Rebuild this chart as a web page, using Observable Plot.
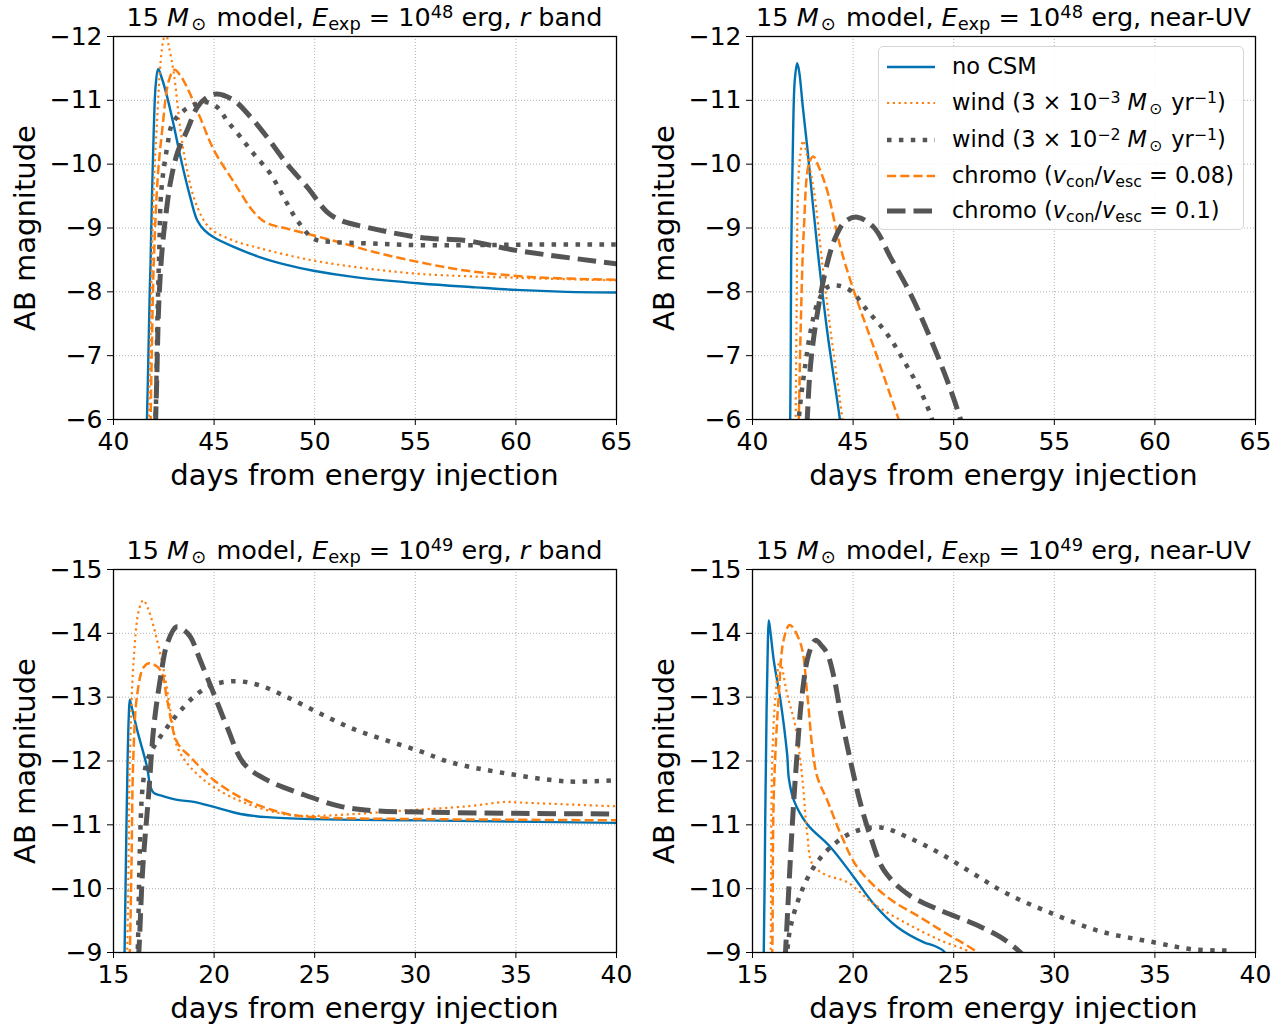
<!DOCTYPE html>
<html>
<head>
<meta charset="utf-8">
<script src="https://cdn.jsdelivr.net/npm/d3@7"></script>
<script src="https://cdn.jsdelivr.net/npm/@observablehq/plot@0.6"></script>
<style>
  html, body { margin: 0; padding: 0; background: #fff; overflow: hidden; }
  body { width: 1288px; height: 1029px; position: relative; font-family: "DejaVu Sans", sans-serif; color: #000; }
  .panel { position: absolute; width: 640px; height: 500px; }
  .txt { position: absolute; white-space: nowrap; font-family: "DejaVu Sans", sans-serif; line-height: 1; }
  .title { font-size: 25.5px; transform: translateX(-50%); }
  .xlab { font-size: 29px; transform: translateX(-50%); }
  .ylab { font-size: 29px; transform: translate(-50%, -50%) rotate(-90deg); }
  sub, sup { font-size: 70%; line-height: 0; }
  sub { vertical-align: -0.25em; }
  sup { vertical-align: 0.45em; }
  .sun { margin-left: 0.12em; margin-right: 0.12em; }
  .legend { position: absolute; left: 878px; top: 46px; width: 366px; height: 184px; box-sizing: border-box;
            border: 1px solid #d6d6d6; border-radius: 5px; background: rgba(255,255,255,0.85); }
  .lrow { position: absolute; left: 0; height: 30px; font-size: 22.5px; white-space: nowrap; }
  .lrow svg { position: absolute; left: 8px; top: 0; }
  .lrow span { position: absolute; left: 73px; top: 3px; line-height: 1; }
</style>
</head>
<body>
<script>
// ---------------- data (days, AB magnitude) ----------------
// Panel 1: E = 1e48 erg, r band
const r48_noCSM = [[41.62,-5.5],[41.7,-6.5],[41.8,-8],[41.84,-8.44],[41.92,-9.6],[42.0,-10.53],[42.1,-11.25],[42.22,-11.49],[42.4,-11.35],[42.67,-11.05],[43.0,-10.6],[43.33,-10.11],[43.8,-9.5],[44.16,-9.12],[44.5,-8.97],[45.0,-8.85],[46.0,-8.7],[47.3,-8.54],[48.5,-8.43],[49.94,-8.33],[52.0,-8.23],[55.26,-8.13],[58.0,-8.07],[60.0,-8.03],[62.5,-8.0],[65.0,-7.99]];
const r48_wind3 = [[41.72,-5.5],[41.82,-7],[41.9,-8.44],[42.02,-9.8],[42.14,-10.53],[42.34,-11.6],[42.48,-11.95],[42.6,-12.05],[42.75,-11.85],[43.0,-11.42],[43.33,-10.53],[43.66,-9.9],[44.16,-9.33],[44.82,-8.99],[46.0,-8.8],[47.3,-8.68],[49.94,-8.49],[52.5,-8.37],[55.26,-8.28],[60.0,-8.22],[65.0,-8.18]];
const r48_wind2 = [[42.0,-5.5],[42.09,-6],[42.18,-7.5],[42.27,-8.6],[42.38,-9.6],[42.67,-10.27],[42.92,-10.63],[43.5,-10.84],[44.16,-10.95],[44.66,-10.97],[45.2,-10.88],[45.65,-10.68],[46.3,-10.43],[46.97,-10.16],[47.8,-9.85],[48.46,-9.48],[49.13,-9.12],[49.96,-8.83],[50.94,-8.78],[52.6,-8.76],[55.26,-8.73],[60.9,-8.74],[65.0,-8.74]];
const r48_chromo08 = [[41.82,-5.5],[41.9,-7],[42.0,-8.44],[42.2,-9.8],[42.42,-10.53],[42.75,-11.31],[43.03,-11.48],[43.3,-11.4],[43.66,-11.2],[44.32,-10.72],[44.99,-10.22],[45.98,-9.72],[46.97,-9.25],[47.6,-9.08],[48.63,-8.99],[50.95,-8.8],[53.0,-8.62],[55.26,-8.46],[57.58,-8.33],[60.9,-8.23],[65.0,-8.19]];
const r48_chromo10 = [[42.05,-5.5],[42.14,-6.5],[42.25,-7.8],[42.4,-8.6],[42.6,-9.2],[42.85,-9.75],[43.2,-10.2],[43.66,-10.53],[44.16,-10.89],[44.66,-11.05],[45.15,-11.1],[45.98,-11.0],[46.81,-10.74],[47.64,-10.42],[48.63,-10.0],[49.63,-9.64],[50.62,-9.25],[51.28,-9.12],[52.6,-9.01],[55.26,-8.85],[57.58,-8.8],[60.0,-8.65],[65.0,-8.44]];

// Panel 2: E = 1e48 erg, near-UV
const uv48_noCSM = [[41.86,-5.5],[41.9,-7],[41.92,-8.44],[42.02,-10.53],[42.1,-11.31],[42.22,-11.58],[42.32,-11.45],[42.5,-10.9],[42.72,-10.27],[43.22,-8.7],[43.71,-7.39],[44.34,-6.01],[44.5,-5.6]];
const uv48_wind3 = [[42.1,-5.5],[42.14,-6],[42.2,-8],[42.25,-9.48],[42.33,-10.0],[42.45,-10.3],[42.52,-10.37],[42.7,-10.15],[43.05,-9.59],[43.47,-8.44],[43.88,-7.39],[44.47,-6.0],[44.6,-5.6]];
const uv48_wind2 = [[42.25,-5.5],[42.3,-6],[42.63,-6.87],[42.9,-7.4],[43.22,-7.81],[43.71,-8.07],[44.21,-8.1],[44.87,-8.02],[45.7,-7.71],[46.69,-7.34],[47.52,-6.92],[48.35,-6.45],[48.93,-6.0],[49.1,-5.8]];
const uv48_chromo08 = [[42.25,-5.5],[42.3,-6],[42.4,-7.5],[42.55,-8.96],[42.8,-10.0],[43.02,-10.12],[43.3,-9.95],[43.71,-9.59],[44.37,-8.7],[45.03,-8.02],[46.03,-7.13],[47.27,-6.0],[47.5,-5.8]];
const uv48_chromo10 = [[42.65,-5.5],[42.72,-6],[42.89,-6.87],[43.22,-7.66],[43.71,-8.44],[44.12,-8.85],[44.6,-9.1],[45.2,-9.17],[46.03,-9.01],[46.86,-8.54],[47.85,-7.97],[48.68,-7.39],[49.68,-6.61],[50.34,-6.0],[50.5,-5.8]];

// Panel 3: E = 1e49 erg, r band
const r49_noCSM = [[15.5,-8.5],[15.55,-9],[15.62,-10.5],[15.7,-12],[15.76,-12.7],[15.81,-12.96],[15.9,-12.85],[16.18,-12.48],[16.67,-11.9],[16.84,-11.59],[17.0,-11.5],[17.34,-11.46],[18.17,-11.39],[19.0,-11.36],[19.99,-11.28],[21.31,-11.17],[22.64,-11.12],[24.96,-11.09],[30.26,-11.07],[35.0,-11.05],[40.0,-11.03]];
const r49_wind3 = [[15.62,-8.5],[15.68,-9],[15.75,-10.5],[15.81,-12.0],[16.0,-13.57],[16.26,-14.36],[16.48,-14.52],[16.7,-14.4],[17.0,-14.1],[17.5,-13.42],[17.83,-12.79],[18.17,-12.22],[18.83,-11.9],[19.99,-11.59],[21.64,-11.33],[23.63,-11.16],[24.96,-11.14],[27.0,-11.17],[29.26,-11.22],[32.58,-11.29],[34.5,-11.36],[35.2,-11.35],[36.72,-11.33],[40.0,-11.29]];
const r49_wind2 = [[16.1,-8.5],[16.2,-9],[16.3,-10.5],[16.45,-11.6],[16.67,-12.0],[17.0,-12.22],[17.67,-12.53],[18.33,-12.79],[19.16,-13.05],[19.99,-13.2],[21.15,-13.25],[22.31,-13.18],[23.63,-13.0],[25.29,-12.74],[26.94,-12.5],[28.6,-12.32],[30.26,-12.15],[31.75,-11.98],[34.24,-11.82],[37.55,-11.68],[40.0,-11.7]];
const r49_chromo08 = [[15.75,-8.5],[15.81,-9],[15.9,-10.5],[15.98,-12.0],[16.18,-13.05],[16.5,-13.47],[16.8,-13.53],[17.34,-13.42],[17.67,-12.95],[18.17,-12.29],[18.83,-12.06],[19.99,-11.7],[21.64,-11.38],[23.63,-11.17],[24.96,-11.12],[30.26,-11.09],[35.0,-11.08],[40.0,-11.07]];
const r49_chromo10 = [[16.15,-8.5],[16.26,-9],[16.45,-10.3],[16.75,-11.49],[17.0,-12.53],[17.34,-13.31],[17.67,-13.84],[18.13,-14.1],[18.5,-14.05],[18.83,-13.94],[19.32,-13.57],[19.99,-13.05],[20.65,-12.53],[21.48,-11.96],[22.64,-11.7],[24.3,-11.49],[26.28,-11.29],[28.0,-11.22],[30.26,-11.2],[35.0,-11.18],[40.0,-11.17]];

// Panel 4: E = 1e49 erg, near-UV
const uv49_noCSM = [[15.5,-8.5],[15.56,-9],[15.63,-11],[15.7,-12.8],[15.76,-13.8],[15.81,-14.2],[15.9,-14.0],[16.06,-13.57],[16.39,-12.95],[16.72,-12.11],[16.81,-11.72],[17.06,-11.38],[17.72,-11.01],[18.88,-10.65],[20.04,-10.18],[21.03,-9.76],[22.19,-9.4],[23.52,-9.16],[24.0,-9.11],[24.51,-9.02],[24.7,-8.9]];
const uv49_wind3 = [[15.85,-8.5],[15.9,-9],[15.98,-12.0],[16.15,-13.05],[16.36,-13.57],[16.72,-13.05],[17.14,-12.53],[17.47,-11.75],[17.72,-10.86],[17.97,-10.39],[18.55,-10.23],[19.71,-10.1],[21.03,-9.76],[22.69,-9.45],[24.34,-9.19],[25.83,-9.0],[26.1,-8.9]];
const uv49_wind2 = [[16.6,-8.5],[16.72,-9],[16.89,-9.4],[17.39,-9.92],[18.05,-10.34],[18.88,-10.65],[20.04,-10.89],[21.36,-10.96],[22.69,-10.81],[24.34,-10.55],[26.0,-10.23],[27.66,-9.92],[29.98,-9.6],[32.3,-9.33],[34.95,-9.16],[36.86,-9.05],[38.77,-9.03]];
const uv49_chromo08 = [[15.92,-8.5],[15.98,-9],[16.06,-11.49],[16.31,-13.05],[16.55,-13.9],[16.85,-14.13],[17.39,-13.84],[17.72,-13.05],[17.97,-12.22],[18.22,-11.75],[18.72,-11.38],[19.38,-10.86],[20.2,-10.34],[21.69,-9.87],[23.34,-9.55],[24.67,-9.29],[26.16,-9.0],[26.5,-8.85]];
const uv49_chromo10 = [[16.55,-8.5],[16.64,-9],[16.97,-10.96],[17.19,-12.0],[17.47,-13.05],[17.8,-13.68],[18.13,-13.89],[18.45,-13.8],[18.72,-13.68],[19.05,-13.31],[19.38,-12.74],[19.87,-12.0],[20.37,-11.33],[20.87,-10.81],[21.53,-10.29],[22.69,-9.92],[24.34,-9.66],[26.0,-9.45],[27.33,-9.24],[28.32,-9.0],[28.6,-8.9]];

// axis ticks
const xTicks48 = [40, 45, 50, 55, 60, 65];
const yTicks48 = [-12, -11, -10, -9, -8, -7, -6];
const xTicks49 = [15, 20, 25, 30, 35, 40];
const yTicks49 = [-15, -14, -13, -12, -11, -10, -9];

// legend labels
const legendLabels = [
  "no CSM",
  "wind (3 × 10<sup>−3</sup> <i>M</i><sub class=\"sun\">⊙</sub> yr<sup>−1</sup>)",
  "wind (3 × 10<sup>−2</sup> <i>M</i><sub class=\"sun\">⊙</sub> yr<sup>−1</sup>)",
  "chromo (<i>v</i><sub>con</sub>/<i>v</i><sub>esc</sub> = 0.08)",
  "chromo (<i>v</i><sub>con</sub>/<i>v</i><sub>esc</sub> = 0.1)"
];

// ---------------- styles ----------------
const styles = [
  {stroke: "#0072b2", strokeWidth: 2.4, strokeDasharray: null},
  {stroke: "#ff7f0e", strokeWidth: 2.2, strokeDasharray: "2.2,3.6"},
  {stroke: "#555555", strokeWidth: 4.5, strokeDasharray: "4.5,7.4"},
  {stroke: "#ff7f0e", strokeWidth: 2.5, strokeDasharray: "9.2,4"},
  {stroke: "#555555", strokeWidth: 5, strokeDasharray: "18.5,8"}
];

const titleStart = "15 <i>M</i><sub class=\"sun\">⊙</sub> model, <i>E</i><sub>exp</sub> = 10";
const panels = [
  {left: 0, top: 0, mL: 113, mR: 24, xd: [40, 65], yd: [-6, -12], xt: xTicks48, yt: yTicks48,
   series: [r48_noCSM, r48_wind3, r48_wind2, r48_chromo08, r48_chromo10],
   title: titleStart + "<sup>48</sup> erg, <i>r</i> band"},
  {left: 640, top: 0, mL: 112, mR: 25, xd: [40, 65], yd: [-6, -12], xt: xTicks48, yt: yTicks48,
   series: [uv48_noCSM, uv48_wind3, uv48_wind2, uv48_chromo08, uv48_chromo10],
   title: titleStart + "<sup>48</sup> erg, near-UV"},
  {left: 0, top: 533, mL: 113, mR: 24, xd: [15, 40], yd: [-9, -15], xt: xTicks49, yt: yTicks49,
   series: [r49_noCSM, r49_wind3, r49_wind2, r49_chromo08, r49_chromo10],
   title: titleStart + "<sup>49</sup> erg, <i>r</i> band"},
  {left: 640, top: 533, mL: 112, mR: 25, xd: [15, 40], yd: [-9, -15], xt: xTicks49, yt: yTicks49,
   series: [uv49_noCSM, uv49_wind3, uv49_wind2, uv49_chromo08, uv49_chromo10],
   title: titleStart + "<sup>49</sup> erg, near-UV"}
];

const fmt = d3.format("d");
const W = 640, H = 500, mT = 36, mB = 81;

function addText(cls, html, x, y) {
  const d = document.createElement("div");
  d.className = "txt " + cls;
  d.innerHTML = html;
  d.style.left = x + "px";
  d.style.top = y + "px";
  document.body.appendChild(d);
  return d;
}

panels.forEach(p => {
  const marks = [
    Plot.gridX(p.xt, {stroke: "#b0b0b0", strokeOpacity: 1, strokeWidth: 1, strokeDasharray: "1,2"}),
    Plot.gridY(p.yt, {stroke: "#b0b0b0", strokeOpacity: 1, strokeWidth: 1, strokeDasharray: "1,2"})
  ];
  const order = [0, 1, 3, 2, 4];
  order.forEach(i => {
    const s = styles[i];
    const opts = {x: d => d[0], y: d => d[1], stroke: s.stroke, strokeWidth: s.strokeWidth,
                  curve: "catmull-rom", clip: true, strokeLinecap: "butt", strokeLinejoin: "round"};
    if (s.strokeDasharray) opts.strokeDasharray = s.strokeDasharray;
    marks.push(Plot.line(p.series[i], opts));
  });
  marks.push(
    Plot.frame({stroke: "#000", strokeWidth: 1.3}),
    Plot.axisX(p.xt, {tickSize: 6, tickPadding: 7, fontSize: 25, tickFormat: fmt, label: null, stroke: "#000"}),
    Plot.axisY(p.yt, {tickSize: 6, tickPadding: 5, fontSize: 25, tickFormat: fmt, label: null, stroke: "#000"})
  );
  const chart = Plot.plot({
    width: W, height: H,
    marginLeft: p.mL, marginRight: p.mR, marginTop: mT, marginBottom: mB,
    x: {domain: p.xd},
    y: {domain: p.yd},
    style: {fontFamily: "DejaVu Sans", fontSize: "25px", color: "#000", background: "transparent", overflow: "visible"},
    marks
  });
  const holder = document.createElement("div");
  holder.className = "panel";
  holder.style.left = p.left + "px";
  holder.style.top = p.top + "px";
  holder.appendChild(chart);
  document.body.appendChild(holder);

  const cx = p.left + (p.mL + (W - p.mR)) / 2;
  addText("title", p.title, cx, p.top + 5);
  addText("xlab", "days from energy injection", cx, p.top + 461);
  addText("ylab", "AB magnitude", p.left + p.mL - 88, p.top + mT + (H - mT - mB) / 2);
});

// legend (in the upper-right panel)
const leg = document.createElement("div");
leg.className = "legend";
document.body.appendChild(leg);
const rowTops = [5, 41, 78, 114, 149];
legendLabels.forEach((lab, i) => {
  const s = styles[i];
  const row = document.createElement("div");
  row.className = "lrow";
  row.style.top = rowTops[i] + "px";
  row.innerHTML = `<svg width="50" height="30"><line x1="0" x2="48" y1="15" y2="15" stroke="${s.stroke}" stroke-width="${s.strokeWidth}" ${s.strokeDasharray ? `stroke-dasharray="${s.strokeDasharray}"` : ""}/></svg><span>${lab}</span>`;
  leg.appendChild(row);
});
</script>
</body>
</html>
